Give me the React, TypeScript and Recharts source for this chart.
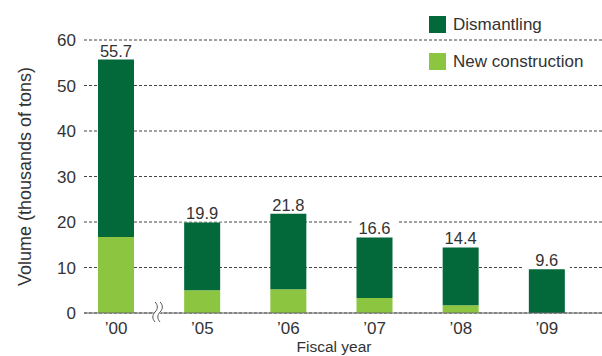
import React from "react";
import {
  BarChart,
  Bar,
  XAxis,
  YAxis,
  CartesianGrid,
  Legend,
  LabelList,
} from "recharts";

const years = ["\u201900", "\u201905", "\u201906", "\u201907", "\u201908", "\u201909"];
const totals = [55.7, 19.9, 21.8, 16.6, 14.4, 9.6];
const newConstruction = [16.7, 5.0, 5.2, 3.3, 1.7, 0];
const yTicks = [0, 10, 20, 30, 40, 50, 60];

const DARK = "#03693a";
const LIGHT = "#8cc540";
const TEXT = "#333333";
const FONT = "'Liberation Sans', Arial, Helvetica, sans-serif";

const data = years.map((year, i) => ({
  year,
  newConstruction: newConstruction[i],
  dismantling: +(totals[i] - newConstruction[i]).toFixed(1),
  total: totals[i],
}));

// total above each stack, on a white box that cuts the grid lines
const TotalLabel = (props: any) => {
  const { x, y, width, value } = props;
  const cx = x + width / 2;
  return (
    <g>
      <rect x={cx - 23} y={y - 18} width={46} height={17} fill="#fff" />
      <text
        x={cx}
        y={y - 3}
        textAnchor="middle"
        fontSize={16.5}
        fontFamily={FONT}
        fill={TEXT}
      >
        {value}
      </text>
    </g>
  );
};

// year ticks; the first one also carries the axis break mark after it
const YearTick = (props: any) => {
  const { x, y, payload, index } = props;
  const bx = x + 42;
  const wave = (x0: number) =>
    `M${x0},302 c 3,3 3,7 0,10 c -3,3 -3,7 0,10`;
  return (
    <g>
      {index === 0 && (
        <g>
          <path
            d={`M${bx - 3},302 c 3,3 3,7 0,10 c -3,3 -3,7 0,10 L${bx + 3},322 c -3,-3 -3,-7 0,-10 c 3,-3 3,-7 0,-10 Z`}
            fill="#fff"
          />
          <path d={wave(bx - 3)} fill="none" stroke="#555" strokeWidth={1} />
          <path d={wave(bx + 2)} fill="none" stroke="#555" strokeWidth={1} />
        </g>
      )}
      <text
        x={x}
        y={y}
        dy={13}
        textAnchor="middle"
        fontSize={17}
        fontFamily={FONT}
        fill={TEXT}
      >
        {payload.value}
      </text>
    </g>
  );
};

const LegendBox = () => {
  const items = [
    { name: "Dismantling", color: DARK },
    { name: "New construction", color: LIGHT },
  ];
  return (
    <div style={{ fontFamily: FONT, fontSize: 17, color: TEXT }}>
      {items.map((it) => (
        <div
          key={it.name}
          style={{ display: "flex", alignItems: "center", height: 37 }}
        >
          <span
            style={{
              display: "inline-block",
              width: 17,
              height: 17,
              background: it.color,
              marginRight: 7,
            }}
          />
          <span>{it.name}</span>
        </div>
      ))}
    </div>
  );
};

const App = () => {
  return (
    <div style={{ position: "absolute", top: 0, left: 0, background: "#fff" }}>
      <BarChart
        width={602}
        height={356}
        data={data}
        margin={{ top: 40, right: 0, bottom: 0, left: 0 }}
      >
        <CartesianGrid
          vertical={false}
          stroke="#444"
          strokeDasharray="3 2"
        />
        <XAxis
          dataKey="year"
          height={43}
          padding={{ left: -11, right: 12 }}
          tickLine={false}
          axisLine={{ stroke: "#666" }}
          tick={<YearTick />}
          interval={0}
        />
        <YAxis
          width={84}
          domain={[0, 60]}
          ticks={yTicks}
          axisLine={false}
          tickLine={false}
          tick={{ fill: TEXT, fontSize: 17, fontFamily: FONT }}
          label={{
            value: "Volume (thousands of tons)",
            angle: -90,
            position: "insideLeft",
            dx: 20,
            dy: 0,
            style: {
              textAnchor: "middle",
              fill: TEXT,
              fontSize: 18,
              fontFamily: FONT,
            },
          }}
        />
        <Legend
          verticalAlign="middle"
          content={<LegendBox />}
          wrapperStyle={{ top: 6, left: 429, width: 180 }}
        />
        <Bar
          dataKey="newConstruction"
          name="New construction"
          stackId="a"
          fill={LIGHT}
          barSize={36}
          isAnimationActive={false}
        />
        <Bar
          dataKey="dismantling"
          name="Dismantling"
          stackId="a"
          fill={DARK}
          barSize={36}
          isAnimationActive={false}
        >
          <LabelList dataKey="total" content={<TotalLabel />} />
        </Bar>
        <text
          x={334}
          y={352}
          textAnchor="middle"
          fontSize={15.5}
          fontFamily={FONT}
          fill={TEXT}
        >
          Fiscal year
        </text>
      </BarChart>
    </div>
  );
};

export default App;
